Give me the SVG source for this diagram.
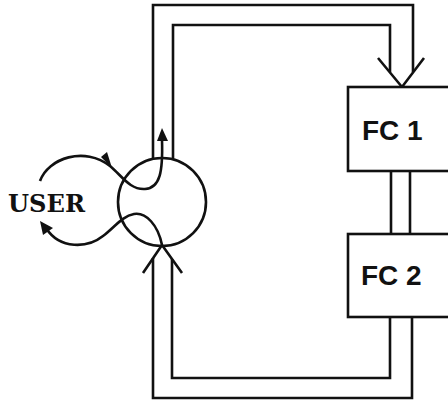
<svg xmlns="http://www.w3.org/2000/svg" width="448" height="405" viewBox="0 0 448 405">
<style>
.ln{fill:none;stroke:#111;stroke-width:2.6;stroke-linejoin:miter}
.box{fill:#fff;stroke:#111;stroke-width:2.6}
.fc{font-family:"Liberation Sans",Arial,sans-serif;font-weight:bold;font-size:28px;fill:#111}
.usr{font-family:"DejaVu Serif",serif;font-weight:bold;font-size:25px;fill:#111}
.ah{fill:#111;stroke:none}
</style>
<rect width="448" height="405" fill="#fff"/>
<g id="connectors">
  <path class="ln" d="M153,160 V5 H413 V72"/>
  <path class="ln" d="M173,160 V25 H390 V72"/>
  <polyline class="ln" points="378,58 402,87 424,58"/>
  <path class="ln" d="M391,171 V234 M410,171 V234"/>
  <path class="ln" d="M153,258 V398 H412 V317"/>
  <path class="ln" d="M172,259 V378 H390 V317"/>
  <polyline class="ln" points="143,273 162,245 182,273"/>
  <path class="ln" d="M40,181 C48,158 85,146 110,166 C122,176 130,190 145,189 C160,188 163,172 162,140"/>
  <polygon class="ah" points="157,141 162,128 168,141"/>
  <polygon class="ah" points="101,157 112,168 107,152"/>
  <path class="ln" d="M162,245 C158,225 146,212 134,214 C122,216 114,228 103,236 C88,248 60,250 46,228"/>
  <polygon class="ah" points="40,221 53,228 43,235"/>
</g>
<g id="switch">
  <circle class="ln" cx="162" cy="202" r="44"/>
</g>
<g id="user">
  <text class="usr" x="8" y="212" textLength="77" lengthAdjust="spacingAndGlyphs">USER</text>
</g>
<g id="fc1">
  <rect class="box" x="348" y="87" width="110" height="84"/>
  <text class="fc" x="362" y="140">FC 1</text>
</g>
<g id="fc2">
  <rect class="box" x="348" y="234" width="110" height="83"/>
  <text class="fc" x="361" y="285">FC 2</text>
</g>
</svg>
